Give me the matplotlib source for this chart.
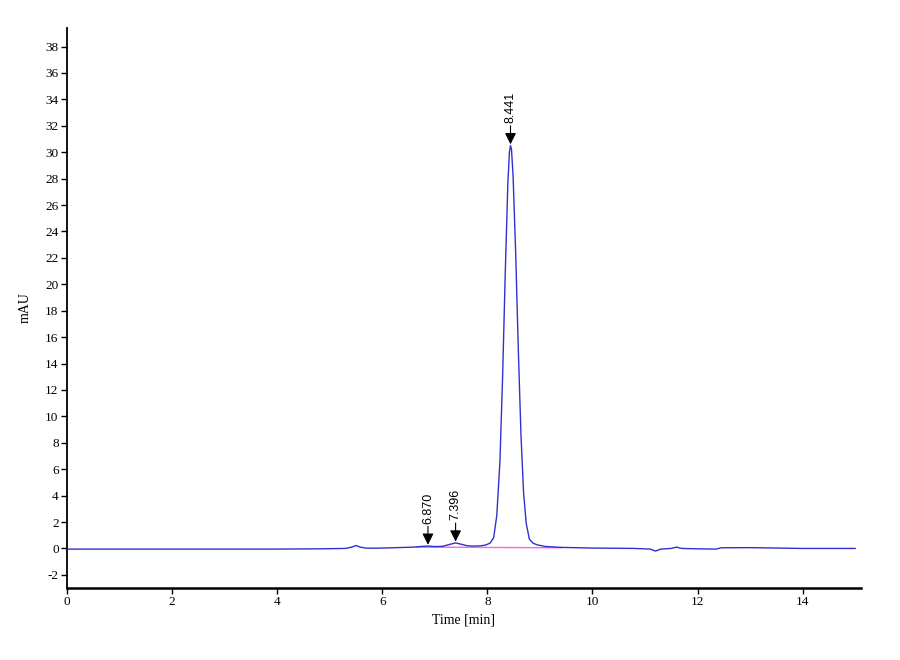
import numpy as np
import matplotlib
matplotlib.use("Agg")
import matplotlib.pyplot as plt

plt.rcParams["axes.unicode_minus"] = False

# chromatogram trace (time in min, signal in mAU)
times = [0.0, 1.0, 2.0, 3.0, 4.0, 4.8, 5.3, 5.42, 5.5, 5.58, 5.7, 5.9, 6.2, 6.6,
         6.75, 6.87, 7.0, 7.15, 7.28, 7.396, 7.5, 7.62, 7.75, 7.88, 7.97, 8.05,
         8.12, 8.18, 8.24, 8.29, 8.34, 8.39, 8.42, 8.441, 8.46, 8.49, 8.54, 8.59,
         8.64, 8.69, 8.74, 8.80, 8.87, 8.95, 9.1, 9.4, 10.0, 10.8, 11.1, 11.2,
         11.3, 11.5, 11.6, 11.7, 12.0, 12.35, 12.45, 13.0, 14.0, 15.0]
signal = [-0.05, -0.05, -0.05, -0.05, -0.05, -0.03, 0.0, 0.1, 0.22, 0.1, 0.02, 0.02, 0.05, 0.1,
          0.15, 0.18, 0.14, 0.16, 0.3, 0.42, 0.32, 0.2, 0.18, 0.2, 0.26, 0.4,
          0.8, 2.5, 6.6, 12.9, 20.7, 27.6, 30.0, 30.5, 30.2, 28.2, 22.3, 15.0,
          8.6, 4.2, 1.9, 0.7, 0.4, 0.27, 0.15, 0.08, 0.03, 0.0, -0.05, -0.2,
          -0.05, 0.0, 0.1, 0.0, -0.03, -0.05, 0.05, 0.06, 0.0, 0.0]

# integrated peaks
peak_times = [6.870, 7.396, 8.441]
peak_heights = [0.18, 0.42, 30.5]
peak_labels = ["6.870", "7.396", "8.441"]

# baseline drawn under the peaks
base_t = [6.65, 9.4]
base_v = [0.1, 0.05]

fig = plt.figure(figsize=(9, 6.6), dpi=100)
ax = fig.add_axes([0.0744, 0.109, 0.8822, 0.8485])

ax.plot(base_t, base_v, color="#ff66cc", lw=1.0, zorder=2)
ax.plot(times, signal, color="#3030d0", lw=1.0, zorder=3)

# peak markers: triangle + stem + rotated label
for t, h, lab in zip(peak_times, peak_heights, peak_labels):
    ax.annotate("", xy=(t, h + 0.1), xytext=(t, h + 1.5),
                arrowprops=dict(arrowstyle="-|>", color="black", lw=0.8,
                                mutation_scale=17, shrinkA=0, shrinkB=0))
    ax.text(t, h + 1.7, lab, rotation=90, ha="center", va="bottom",
            fontsize=9, family="Liberation Sans")

ax.set_xlim(0, 15.11)
ax.set_ylim(-3.0, 39.4)
ax.set_xticks(np.arange(0, 15, 2))
ax.set_yticks(np.arange(-2, 39, 2))

for s in ["top", "right"]:
    ax.spines[s].set_visible(False)
ax.spines["left"].set_linewidth(1.3)
ax.spines["bottom"].set_linewidth(1.8)
ax.tick_params(axis="both", direction="out", length=4, width=1.0, labelsize=9.5, pad=2)
for lbl in ax.get_xticklabels() + ax.get_yticklabels():
    lbl.set_family("Liberation Serif")

ax.set_xlabel("Time [min]", fontsize=10, family="Liberation Serif", labelpad=4)
ax.set_ylabel("mAU", fontsize=10, family="Liberation Serif", labelpad=10)

fig.savefig("out.png", dpi=100)
